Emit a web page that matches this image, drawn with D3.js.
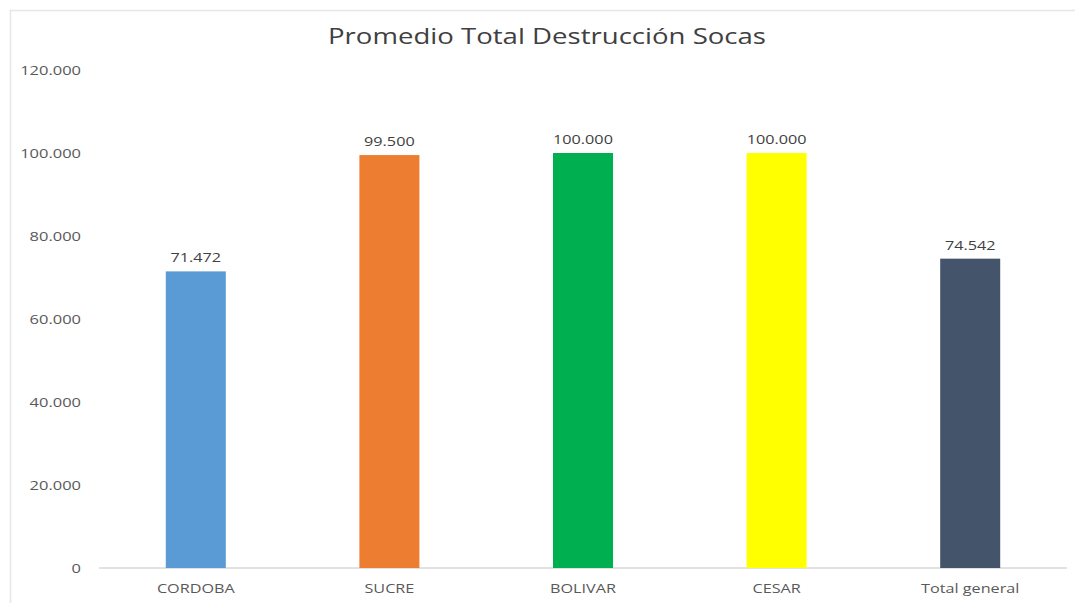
<!DOCTYPE html>
<html><head><meta charset="utf-8">
<script src="https://cdn.jsdelivr.net/npm/d3@7"></script>
<style>body{margin:0;background:#fff;} svg{display:block;}</style>
</head><body>
<svg id="c" width="1075" height="603"></svg>
<script>
const title = "Promedio Total Destrucción Socas";
const categories = ["CORDOBA", "SUCRE", "BOLIVAR", "CESAR", "Total general"];
const values = [71.472, 99.5, 100.0, 100.0, 74.542];
const colors = ["#5B9BD5", "#ED7D31", "#00B050", "#FFFF00", "#44546A"];
const yTicks = [0, 20, 40, 60, 80, 100, 120];

(function () {
const svg = d3.select("#c");
const font = "'Open Sans', 'Liberation Sans', sans-serif";
const plotLeft = 99, plotRight = 1067, plotTop = 70, plotBottom = 568;

function stretch(sel, k) {
  sel.each(function () {
    const w = this.getComputedTextLength();
    this.setAttribute("textLength", w * k);
    this.setAttribute("lengthAdjust", "spacingAndGlyphs");
  });
}

// chart border (top & left visible)
svg.append("line").attr("x1", 10).attr("x2", 1075).attr("y1", 10.5).attr("y2", 10.5).attr("stroke", "#e6e6e6").attr("stroke-width", 1.5);
svg.append("line").attr("x1", 10.5).attr("x2", 10.5).attr("y1", 10).attr("y2", 603).attr("stroke", "#e6e6e6").attr("stroke-width", 1.5);

const x = d3.scaleBand().domain(categories).range([plotLeft, plotRight]).paddingInner(0.69).paddingOuter(0.345);
const y = d3.scaleLinear().domain([0, 120]).range([plotBottom, plotTop]);

const t = svg.append("text").attr("x", 547).attr("y", 44).attr("text-anchor", "middle")
  .attr("font-family", font).attr("font-size", 22).attr("fill", "#404040").text(title);
t.each(function () {
  this.setAttribute("textLength", 438);
  this.setAttribute("lengthAdjust", "spacingAndGlyphs");
});

// y axis (labels only)
const yAxis = d3.axisLeft(y).tickValues(yTicks).tickSize(0).tickPadding(0).tickFormat(d => d === 0 ? "0" : d3.format(".3f")(d));
const gy = svg.append("g").attr("transform", `translate(81,0)`).call(yAxis);
gy.select(".domain").remove();
gy.selectAll("text").attr("font-family", font).attr("font-size", 13.5).attr("fill", "#595959");
stretch(gy.selectAll("text"), 1.22);

// x axis
const xAxis = d3.axisBottom(x).tickSize(0).tickPadding(15);
const gx = svg.append("g").attr("transform", `translate(0,${plotBottom})`).call(xAxis);
gx.select(".domain").attr("stroke", "#d9d9d9").attr("stroke-width", 1.5).attr("d", `M${plotLeft},0H${plotRight}`);
gx.selectAll("text").attr("font-family", font).attr("font-size", 13.5).attr("fill", "#595959");
stretch(gx.selectAll("text"), 1.2);

// bars
svg.selectAll("rect.bar").data(categories).enter().append("rect").attr("class", "bar")
  .attr("x", d => x(d)).attr("width", x.bandwidth())
  .attr("y", (d, i) => y(values[i])).attr("height", (d, i) => plotBottom - y(values[i]))
  .attr("fill", (d, i) => colors[i]);

// labels
const lbl = svg.selectAll("text.lbl").data(categories).enter().append("text").attr("class", "lbl")
  .attr("x", d => x(d) + x.bandwidth() / 2).attr("y", (d, i) => y(values[i]) - 9)
  .attr("text-anchor", "middle").attr("font-family", font).attr("font-size", 13.5).attr("fill", "#404040")
  .text((d, i) => d3.format(".3f")(values[i]));
stretch(lbl, 1.2);
})();
</script>
</body></html>
